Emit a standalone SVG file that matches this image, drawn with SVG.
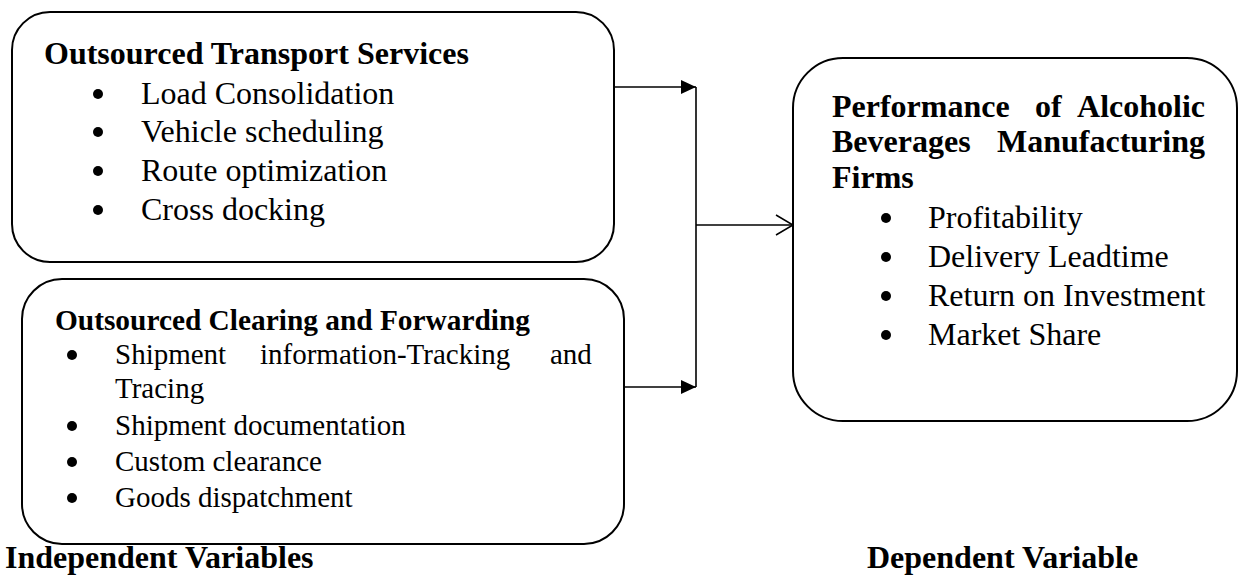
<svg xmlns="http://www.w3.org/2000/svg" width="1239" height="576" viewBox="0 0 1239 576">
<defs>
<style>
.box{fill:#fff;stroke:#000;stroke-width:2}
.t{font-family:"Liberation Serif","Times New Roman",serif;fill:#000}
.b{font-weight:bold}
.s32{font-size:32px}
.s29{font-size:29px}
.con{stroke:#000;stroke-width:1.6;fill:none}
</style>
<marker id="solid" markerWidth="16" markerHeight="14" refX="15" refY="7" orient="auto" markerUnits="userSpaceOnUse">
<path d="M0,0 L15,7 L0,14 Z" fill="#000"/>
</marker>
<marker id="open" markerWidth="20" markerHeight="22" refX="18" refY="11" orient="auto" markerUnits="userSpaceOnUse">
<path d="M1,1 L18,11 L1,21" fill="none" stroke="#000" stroke-width="1.5"/>
</marker>
</defs>

<g id="connectors">
<line class="con" x1="614" y1="87" x2="696" y2="87" marker-end="url(#solid)"/>
<line class="con" x1="624" y1="387" x2="696" y2="387" marker-end="url(#solid)"/>
<line class="con" x1="696" y1="87" x2="696" y2="387"/>
<line class="con" x1="696" y1="225" x2="793" y2="225" marker-end="url(#open)"/>
</g>

<g id="transport">
<rect class="box" x="12" y="12" width="602" height="250" rx="38" ry="38"/>
<text class="t b s32" x="44" y="64">Outsourced Transport Services</text>
<circle cx="98" cy="94" r="5"/>
<text class="t s32" x="141" y="104">Load Consolidation</text>
<circle cx="98" cy="132" r="5"/>
<text class="t s32" x="141" y="142">Vehicle scheduling</text>
<circle cx="98" cy="171" r="5"/>
<text class="t s32" x="141" y="181">Route optimization</text>
<circle cx="98" cy="210" r="5"/>
<text class="t s32" x="141" y="220">Cross docking</text>
</g>

<g id="clearing">
<rect class="box" x="22" y="279" width="602" height="265" rx="40" ry="40"/>
<text class="t b s29" x="55" y="330" textLength="475" lengthAdjust="spacingAndGlyphs">Outsourced Clearing and Forwarding</text>
<circle cx="72" cy="355" r="5"/>
<text class="t s29" x="115" y="364">Shipment</text>
<text class="t s29" x="260" y="364">information-Tracking</text>
<text class="t s29" x="550" y="364">and</text>
<text class="t s29" x="115" y="398">Tracing</text>
<circle cx="72" cy="426" r="5"/>
<text class="t s29" x="115" y="435">Shipment documentation</text>
<circle cx="72" cy="462" r="5"/>
<text class="t s29" x="115" y="471">Custom clearance</text>
<circle cx="72" cy="498" r="5"/>
<text class="t s29" x="115" y="507">Goods dispatchment</text>
</g>

<g id="performance">
<rect class="box" x="793" y="58" width="444" height="363" rx="50" ry="50"/>
<text class="t b s32" x="832" y="117">Performance</text>
<text class="t b s32" x="1035" y="117">of</text>
<text class="t b s32" x="1205" y="117" text-anchor="end">Alcoholic</text>
<text class="t b s32" x="832" y="152">Beverages</text>
<text class="t b s32" x="1205" y="152" text-anchor="end">Manufacturing</text>
<text class="t b s32" x="832" y="188">Firms</text>
<circle cx="886" cy="218" r="5"/>
<text class="t s32" x="928" y="228">Profitability</text>
<circle cx="886" cy="257" r="5"/>
<text class="t s32" x="928" y="267">Delivery Leadtime</text>
<circle cx="886" cy="296" r="5"/>
<text class="t s32" x="928" y="306">Return on Investment</text>
<circle cx="886" cy="335" r="5"/>
<text class="t s32" x="928" y="345">Market Share</text>
</g>

<g id="labels">
<text class="t b s32" x="5" y="568">Independent Variables</text>
<text class="t b s32" x="867" y="568">Dependent Variable</text>
</g>
</svg>
